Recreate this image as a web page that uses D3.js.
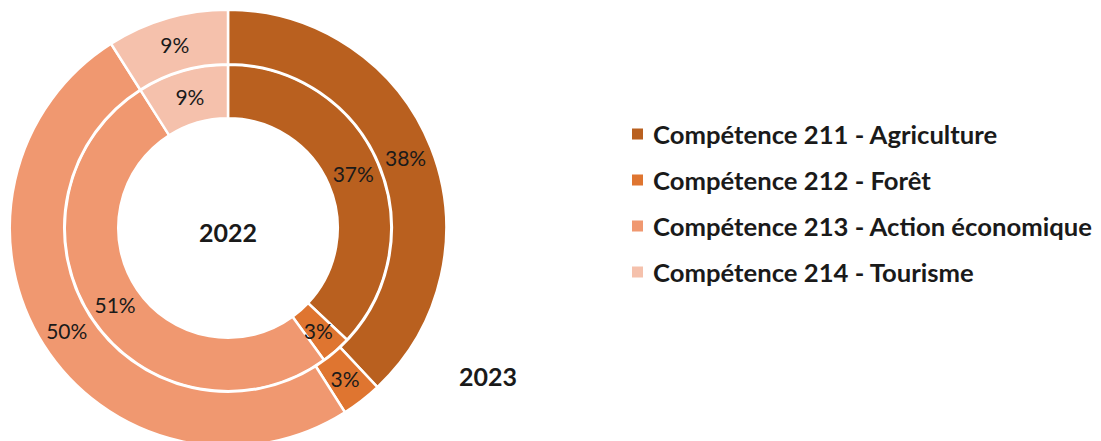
<!DOCTYPE html>
<html>
<head>
<meta charset="utf-8">
<script src="https://cdn.jsdelivr.net/npm/d3@7"></script>
<style>
  html, body { margin: 0; padding: 0; background: #fff; }
  svg { display: block; }
  text { font-family: Lato, "Open Sans", sans-serif; fill: #1a1a1a; }
</style>
</head>
<body>
<svg id="chart" width="1101" height="441"></svg>
<script>
// Répartition par compétence, 2022 (anneau intérieur) et 2023 (anneau extérieur)
const categories = [
  "Compétence 211 - Agriculture",
  "Compétence 212 - Forêt",
  "Compétence 213 - Action économique",
  "Compétence 214 - Tourisme"
];
const values2022 = [37, 3, 51, 9];
const values2023 = [38, 3, 50, 9];
const colors = ["#B9601F", "#DF7530", "#F09870", "#F5C1AC"];

const svg = d3.select("#chart");
const cx = 228, cy = 228;
const sep = 2.5;

const color = d3.scaleOrdinal().domain(categories).range(colors);
const pie = d3.pie().sort(null).value(d => d.value);

const rings = [
  { year: "2022", values: values2022, inner: 111 - sep / 2, outer: 162 + sep / 2 },
  { year: "2023", values: values2023, inner: 165 - sep / 2, outer: 217 + sep / 2 }
];

const g = svg.append("g").attr("transform", `translate(${cx},${cy})`);

rings.forEach(ring => {
  const data = pie(categories.map((c, i) => ({ cat: c, value: ring.values[i] })));
  const arc = d3.arc().innerRadius(ring.inner).outerRadius(ring.outer);
  const labelArc = d3.arc()
    .innerRadius((ring.inner + ring.outer) / 2)
    .outerRadius((ring.inner + ring.outer) / 2);

  const rg = g.append("g").attr("class", "ring-" + ring.year);
  rg.selectAll("path")
    .data(data)
    .join("path")
    .attr("d", arc)
    .attr("fill", d => color(d.data.cat))
    .attr("stroke", "#fff")
    .attr("stroke-width", sep)
    .attr("stroke-linejoin", "miter");

  rg.selectAll("text")
    .data(data)
    .join("text")
    .attr("transform", d => `translate(${labelArc.centroid(d)})`)
    .attr("text-anchor", "middle")
    .attr("dominant-baseline", "central")
    .style("font-size", "21px")
    .text(d => d.data.value + "%");
});

// Libellés des années
g.append("text")
  .attr("x", 0).attr("y", 4)
  .attr("text-anchor", "middle")
  .attr("dominant-baseline", "central")
  .style("font-size", "25px").style("font-weight", 700)
  .text("2022");

svg.append("text")
  .attr("x", 488).attr("y", 376)
  .attr("text-anchor", "middle")
  .attr("dominant-baseline", "central")
  .style("font-size", "25px").style("font-weight", 700)
  .text("2023");

// Légende
const legend = svg.append("g").attr("transform", "translate(632,134)");
const rowStep = 46;
const items = legend.selectAll("g")
  .data(categories)
  .join("g")
  .attr("transform", (d, i) => `translate(0,${i * rowStep})`);

items.append("rect")
  .attr("x", 0).attr("y", -5.5)
  .attr("width", 11).attr("height", 11)
  .attr("fill", d => color(d));

const labels = items.append("text")
  .attr("x", 21).attr("y", 0)
  .attr("dominant-baseline", "central")
  .style("font-size", "21px").style("font-weight", 700)
  .text(d => d);

// Ajuste la taille pour que la plus longue ligne occupe ~439px
let widest = 0;
labels.each(function () { widest = Math.max(widest, this.getComputedTextLength()); });
const fs = 21 * 439 / widest;
labels.style("font-size", fs + "px");
</script>
</body>
</html>
